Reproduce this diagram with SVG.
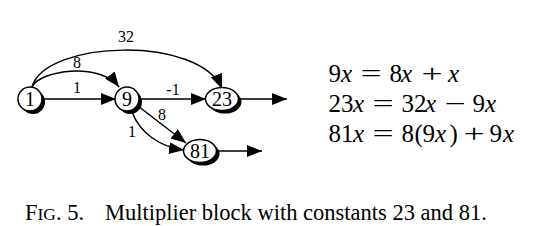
<svg xmlns="http://www.w3.org/2000/svg" width="538" height="226" viewBox="0 0 538 226">
<defs>
<style>
.nd{fill:#fff;stroke:#000;stroke-width:1.5}
.sh{fill:#000}
.nt{font-family:"Liberation Serif",serif;font-size:20px;text-anchor:middle;fill:#000}
.el{font-family:"Liberation Serif",serif;font-size:16px;text-anchor:middle;fill:#000}
.eq{font-family:"Liberation Serif",serif;font-size:25px;fill:#000}
.v{font-style:italic}
.op{text-anchor:middle}
.cap{font-family:"Liberation Serif",serif;font-size:22.5px;fill:#000}
.ed{fill:none;stroke:#000;stroke-width:1.5}
</style>
<marker id="ah" markerUnits="userSpaceOnUse" markerWidth="16" markerHeight="14" refX="15" refY="6" orient="auto">
<path d="M0,0 L15,6 L0,12 z" fill="#000"/>
</marker>
</defs>
<g id="connectors">
<path class="ed" d="M42,99 L116,99" marker-end="url(#ah)"/>
<path class="ed" d="M32,87 C40,70 100,62 119,87" marker-end="url(#ah)"/>
<path class="ed" d="M32,87 C45,40 200,35 222,89" marker-end="url(#ah)"/>
<path class="ed" d="M139,99 L206,99" marker-end="url(#ah)"/>
<path class="ed" d="M138,106 L186,143" marker-end="url(#ah)"/>
<path class="ed" d="M132,112 C140,133 160,147 184,150" marker-end="url(#ah)"/>
<path class="ed" d="M239,99 L287,99" marker-end="url(#ah)"/>
<path class="ed" d="M217,151 L262,151" marker-end="url(#ah)"/>
<text class="el" x="126" y="42">32</text>
<text class="el" x="77" y="68">8</text>
<text class="el" x="77" y="93">1</text>
<text class="el" x="173" y="95">-1</text>
<text class="el" x="162" y="120">8</text>
<text class="el" x="132" y="137">1</text>
</g>
<g id="n1">
<ellipse class="sh" cx="33" cy="102" rx="12" ry="12"/>
<ellipse class="nd" cx="30" cy="99" rx="12" ry="12"/>
<text class="nt" x="30" y="106">1</text>
</g>
<g id="n9">
<ellipse class="sh" cx="130" cy="102" rx="12" ry="12"/>
<ellipse class="nd" cx="127" cy="99" rx="12" ry="12"/>
<text class="nt" x="127" y="106">9</text>
</g>
<g id="n23">
<ellipse class="sh" cx="225" cy="102" rx="16.5" ry="11.5"/>
<ellipse class="nd" cx="222" cy="99" rx="16.5" ry="11.5"/>
<text class="nt" x="222" y="106">23</text>
</g>
<g id="n81">
<ellipse class="sh" cx="203" cy="154" rx="16.5" ry="11.5"/>
<ellipse class="nd" cx="200" cy="151" rx="16.5" ry="11.5"/>
<text class="nt" x="200" y="158">81</text>
</g>
<g id="equations" class="eq">
<text y="82"><tspan x="328.5">9</tspan><tspan class="v" x="341">x</tspan><tspan x="389.5">8</tspan><tspan class="v" x="401">x</tspan><tspan class="v" x="448">x</tspan></text>
<text class="op" transform="translate(371,82) scale(1.5,1)">=</text>
<text class="op" transform="translate(432,82) scale(1.5,1)">+</text>
<text y="112"><tspan x="328.5">23</tspan><tspan class="v" x="353">x</tspan><tspan x="401.5">32</tspan><tspan class="v" x="425">x</tspan><tspan x="472.5">9</tspan><tspan class="v" x="485">x</tspan></text>
<text class="op" transform="translate(383,112) scale(1.5,1)">=</text>
<text class="op" transform="translate(455,112) scale(1.5,1)">−</text>
<text y="142"><tspan x="328.5">81</tspan><tspan class="v" x="353">x</tspan><tspan x="401.5">8</tspan><tspan x="414.5">(</tspan><tspan x="422.5">9</tspan><tspan class="v" x="435">x</tspan><tspan x="449.5">)</tspan><tspan x="489.5">9</tspan><tspan class="v" x="503">x</tspan></text>
<text class="op" transform="translate(383,142) scale(1.5,1)">=</text>
<text class="op" transform="translate(474,142) scale(1.5,1)">+</text>
</g>
<text class="cap" x="25" y="220">F<tspan font-size="17.5px">IG</tspan>. 5.<tspan x="105">Multiplier block with constants 23 and 81.</tspan></text>
</svg>
